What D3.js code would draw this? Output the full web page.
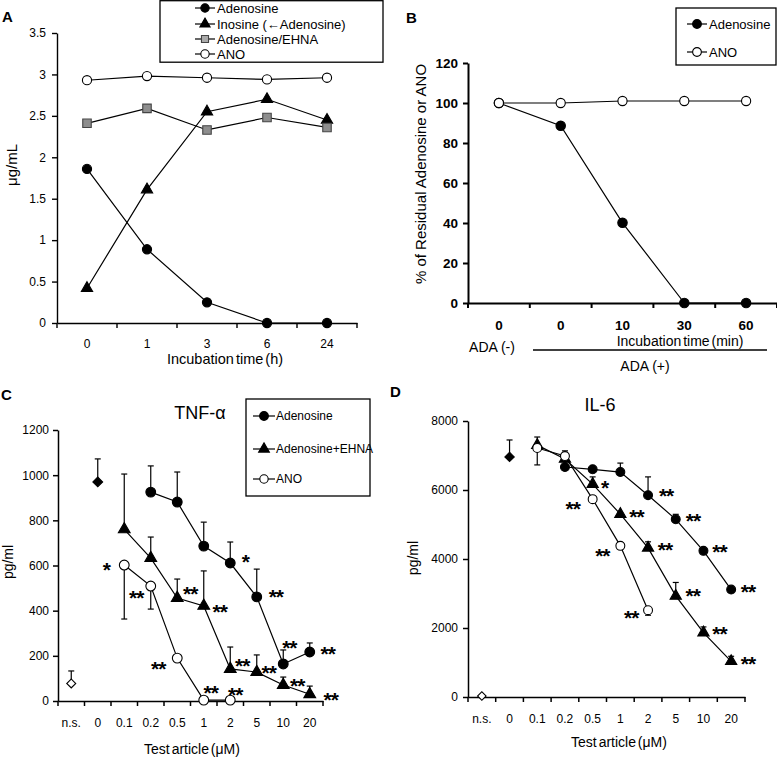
<!DOCTYPE html>
<html><head><meta charset="utf-8">
<script src="https://cdn.jsdelivr.net/npm/d3@7"></script>
<style>body{margin:0;background:#fff}</style>
</head><body>
<script>
// ---------- Panel A data ----------
const timeA = ["0", "1", "3", "6", "24"];
const adenosineA = [1.86, 0.89, 0.25, 0, 0];
const inosineA = [0.42, 1.61, 2.55, 2.70, 2.45];
const ehnaA = [2.41, 2.59, 2.33, 2.48, 2.36];
const anoA = [2.93, 2.98, 2.96, 2.94, 2.96];
const yTicksA = [0, 0.5, 1, 1.5, 2, 2.5, 3, 3.5];
const legendA = ["Adenosine", "Inosine (\u2190Adenosine)", "Adenosine/EHNA", "ANO"];

// ---------- Panel B data ----------
const timeB = ["0", "0", "10", "30", "60"];
const adenosineB = [100, 88.6, 40.1, 0, 0];
const anoB = [100, 100, 101, 101, 101];
const yTicksB = [0, 20, 40, 60, 80, 100, 120];
const legendB = ["Adenosine", "ANO"];

// ---------- Panel C data (TNF-alpha) ----------
const doseCats = ["n.s.", "0", "0.1", "0.2", "0.5", "1", "2", "5", "10", "20"];
const nsC = 78, nsC_sd = 55;
const controlC = 970, controlC_sd = 102;
const adenosineC_doses = ["0.2", "0.5", "1", "2", "5", "10", "20"];
const adenosineC = [925, 881, 686, 611, 461, 164, 217];
const adenosineC_sd = [116, 133, 106, 93, 123, 62, 40];
const ehnaC_doses = ["0.1", "0.2", "0.5", "1", "2", "5", "10", "20"];
const ehnaC = [760, 633, 456, 421, 142, 128, 71, 30];
const ehnaC_sd = [245, 93, 84, 155, 97, 76, 35, 36];
const anoC_doses = ["0.1", "0.2", "0.5", "1", "2"];
const anoC = [602, 509, 190, 4, 4];
const anoC_sd = [-239, -102, 0, 0, 0];
const yTicksC = [0, 200, 400, 600, 800, 1000, 1200];
const legendC = ["Adenosine", "Adenosine+EHNA", "ANO"];
const sigC = [
  ["0.1", 607, -0.68, "*"], ["0.1", 483, 0.45, "**"], ["0.5", 168, -0.72, "**"],
  ["1", 62, 0.26, "**"], ["2", 53, 0.19, "**"],
  ["0.5", 500, 0.49, "**"], ["1", 421, 0.6, "**"], ["2", 182, 0.45, "**"],
  ["5", 151, 0.45, "**"], ["10", 93, 0.53, "**"], ["20", 31, 0.79, "**"],
  ["2", 642, 0.57, "*"], ["5", 487, 0.72, "**"], ["10", 261, 0.23, "**"], ["20", 235, 0.68, "**"]
];

// ---------- Panel D data (IL-6) ----------
const nsD = 30, nsD_sd = 0;
const controlD = 6960, controlD_sd = 490;
const adenosineD_doses = ["0.2", "0.5", "1", "2", "5", "10", "20"];
const adenosineD = [6667, 6600, 6520, 5850, 5150, 4236, 3114];
const adenosineD_sd = [0, 0, 260, 530, 145, 0, 0];
const ehnaD_doses = ["0.1", "0.2", "0.5", "1", "2", "5", "10", "20"];
const ehnaD = [7300, 6900, 6170, 5300, 4323, 2930, 1866, 1035];
const ehnaD_sd = [236, 0, 210, 0, 175, 390, 165, 145];
const anoD_doses = ["0.1", "0.2", "0.5", "1", "2"];
const anoD = [7217, 6985, 5735, 4381, 2515];
const anoD_sd = [-490, 150, 0, 0, -145];
const yTicksD = [0, 2000, 4000, 6000, 8000];
const sigD = [
  ["0.5", 6232, 0.43, "*"], ["0.5", 5623, -0.72, "**"], ["2", 6000, 0.65, "**"],
  ["1", 5391, 0.58, "**"], ["1", 4261, -0.65, "**"], ["5", 5275, 0.62, "**"],
  ["2", 4435, 0.61, "**"], ["10", 4377, 0.58, "**"], ["2", 2464, -0.61, "**"],
  ["5", 3101, 0.61, "**"], ["20", 3217, 0.61, "**"], ["10", 2000, 0.58, "**"],
  ["20", 1130, 0.61, "**"]
];

// ---------- drawing ----------
const FONT = "'Liberation Sans', Arial, Helvetica, sans-serif";
const svg = d3.select("body").append("svg").attr("width", 777).attr("height", 758)
  .attr("font-family", FONT);

function panel(c) {
  const x = d3.scaleBand().domain(c.keys).range([c.x0, c.x1]).paddingInner(0).paddingOuter(0);
  const y = d3.scaleLinear().domain(c.yDomain).range([c.yb, c.yt]);
  const xc = k => x(k) + x.bandwidth() / 2;
  const gy = svg.append("g").attr("transform", `translate(${c.x0},0)`)
    .call(d3.axisLeft(y).tickValues(c.yTicks).tickSize(5).tickSizeOuter(0).tickPadding(c.yPad)
      .tickFormat(d => String(d)));
  const gx = svg.append("g").attr("transform", `translate(0,${c.yb})`)
    .call(d3.axisBottom(x).tickSize(0).tickSizeOuter(0).tickPadding(c.xPad)
      .tickFormat((d, i) => c.labels[i]));
  const bounds = d3.range(c.keys.length + 1).map(i => c.x0 + i * x.step());
  gx.selectAll("line.bnd").data(bounds).join("line").attr("class", "bnd")
    .attr("x1", d => d).attr("x2", d => d).attr("y1", 0).attr("y2", 5)
    .attr("stroke", "#000").attr("stroke-width", c.sw);
  [gx, gy].forEach(g => {
    g.selectAll("text").attr("font-family", FONT).attr("font-size", c.fs)
      .attr("font-weight", c.fw || "normal").attr("fill", "#000");
    g.select(".domain").attr("stroke-width", c.sw);
    g.selectAll(".tick line").attr("stroke-width", c.sw);
  });
  return { x, y, xc };
}

function line(p, cats, vals) {
  svg.append("path").datum(cats.map((d, i) => [p.xc(d), p.y(vals[i])]))
    .attr("d", d3.line()).attr("fill", "none").attr("stroke", "#000").attr("stroke-width", 1.2);
}
function errs(p, cats, vals, sds) {
  cats.forEach((d, i) => {
    if (!sds[i]) return;
    const cx = p.xc(d), y0 = p.y(vals[i]), y1 = p.y(vals[i] + sds[i]);
    svg.append("line").attr("x1", cx).attr("x2", cx).attr("y1", y0).attr("y2", y1)
      .attr("stroke", "#000").attr("stroke-width", 1.2);
    svg.append("line").attr("x1", cx - 3).attr("x2", cx + 3).attr("y1", y1).attr("y2", y1)
      .attr("stroke", "#000").attr("stroke-width", 1.2);
  });
}
function marker(cx, cy, type, size, fill, stroke, rot) {
  svg.append("path").attr("d", d3.symbol().type(type).size(size)())
    .attr("transform", `translate(${cx},${cy})${rot ? " rotate(" + rot + ")" : ""}`)
    .attr("fill", fill).attr("stroke", stroke || "#000").attr("stroke-width", 1.1);
}
function markers(p, cats, vals, type, size, fill, stroke, rot) {
  cats.forEach((d, i) => marker(p.xc(d), p.y(vals[i]), type, size, fill, stroke, rot));
}
function text(x, y, s, fs, opts = {}) {
  const t = svg.append("text").attr("x", x).attr("y", y).text(s)
    .attr("font-size", fs).attr("fill", "#000")
    .attr("text-anchor", opts.anchor || "start").attr("font-weight", opts.weight || "normal");
  if (opts.ws !== undefined) t.attr("word-spacing", opts.ws);
  if (opts.rotate) t.attr("transform", `rotate(-90,${x},${y})`);
  return t;
}
function legend(box, items, lx0, lx1, tx, fs) {
  svg.append("rect").attr("x", box[0]).attr("y", box[1]).attr("width", box[2]).attr("height", box[3])
    .attr("fill", "#fff").attr("stroke", "#000").attr("stroke-width", 1.3);
  items.forEach(it => {
    svg.append("line").attr("x1", lx0).attr("x2", lx1).attr("y1", it.y).attr("y2", it.y)
      .attr("stroke", "#000").attr("stroke-width", 1.2);
    marker((lx0 + lx1) / 2, it.y, it.type, it.size, it.fill, it.stroke, it.rot);
    text(tx, it.y + fs * 0.36, it.label, fs);
  });
}
function sigs(p, list, fs) {
  list.forEach(([cat, v, dx, s]) => {
    text(p.xc(cat) + dx * p.x.step(), p.y(v) + fs * 0.62, s, fs, { anchor: "middle", weight: "bold" })
      .attr("letter-spacing", -1);
  });
}

// ===== Panel A =====
const pA = panel({ keys: timeA, labels: timeA, x0: 57, x1: 357, yb: 323, yt: 33,
  yDomain: [0, 3.5], yTicks: yTicksA, yPad: 6, xPad: 16, fs: 12, sw: 1.4 });
[[adenosineA], [inosineA], [ehnaA], [anoA]].forEach(([v]) => line(pA, timeA, v));
markers(pA, timeA, inosineA, d3.symbolTriangle, 55, "#000");
markers(pA, timeA, adenosineA, d3.symbolCircle, 66, "#000");
markers(pA, timeA, ehnaA, d3.symbolSquare, 72, "#8e8e8e", "#444");
markers(pA, timeA, anoA, d3.symbolCircle, 66, "#fff");
legend([160, 0.7, 223, 61.5], [
  { y: 8, type: d3.symbolCircle, size: 55, fill: "#000", label: legendA[0] },
  { y: 24, type: d3.symbolTriangle, size: 45, fill: "#000", label: legendA[1] },
  { y: 39, type: d3.symbolSquare, size: 50, fill: "#aaa", stroke: "#444", label: legendA[2] },
  { y: 54, type: d3.symbolCircle, size: 55, fill: "#fff", label: legendA[3] }
], 195, 215, 217, 13);
text(2, 22, "A", 15, { weight: "bold" });
text(17, 165, "\u03bcg/mL", 15, { anchor: "middle", rotate: true });
text(225, 364, "Incubation time (h)", 14.5, { anchor: "middle", ws: -2 });

// ===== Panel B =====
const idxB = timeB.map((d, i) => "k" + i);
const pB = panel({ keys: idxB, labels: timeB, x0: 468, x1: 777, yb: 303, yt: 63,
  yDomain: [0, 120], yTicks: yTicksB, yPad: 5, xPad: 17, fs: 13.5, fw: "bold", sw: 2 });
line(pB, idxB, adenosineB);
line(pB, idxB, anoB);
markers(pB, idxB, adenosineB, d3.symbolCircle, 70, "#000");
markers(pB, idxB, anoB, d3.symbolCircle, 66, "#fff");
legend([676, 8, 100, 57], [
  { y: 24, type: d3.symbolCircle, size: 60, fill: "#000", label: legendB[0] },
  { y: 52, type: d3.symbolCircle, size: 60, fill: "#fff", label: legendB[1] }
], 687, 707, 709, 13);
text(406, 23, "B", 15, { weight: "bold" });
text(426, 174, "% of Residual Adenosine or ANO", 15, { anchor: "middle", rotate: true });
text(492, 352, "ADA (-)", 14, { anchor: "middle" });
text(680, 346, "Incubation time (min)", 14, { anchor: "middle", ws: -2 });
svg.append("line").attr("x1", 533).attr("x2", 767).attr("y1", 350).attr("y2", 350)
  .attr("stroke", "#000").attr("stroke-width", 1.6);
text(645, 371, "ADA (+)", 14, { anchor: "middle" });

// ===== Panel C =====
const pC = panel({ keys: doseCats, labels: doseCats, x0: 58, x1: 323, yb: 701, yt: 430,
  yDomain: [0, 1200], yTicks: yTicksC, yPad: 4, xPad: 17, fs: 12, sw: 1.5 });
line(pC, adenosineC_doses, adenosineC);
line(pC, ehnaC_doses, ehnaC);
line(pC, anoC_doses, anoC);
errs(pC, ["n.s."], [nsC], [nsC_sd]);
errs(pC, ["0"], [controlC], [controlC_sd]);
errs(pC, adenosineC_doses, adenosineC, adenosineC_sd);
errs(pC, ehnaC_doses, ehnaC, ehnaC_sd);
errs(pC, anoC_doses, anoC, anoC_sd);
marker(pC.xc("n.s."), pC.y(nsC), d3.symbolSquare, 40, "#fff", "#000", 45);
marker(pC.xc("0"), pC.y(controlC), d3.symbolSquare, 48, "#000", "#000", 45);
markers(pC, ehnaC_doses, ehnaC, d3.symbolTriangle, 60, "#000");
markers(pC, adenosineC_doses, adenosineC, d3.symbolCircle, 75, "#000");
markers(pC, anoC_doses, anoC, d3.symbolCircle, 75, "#fff");
sigs(pC, sigC, 21);
legend([246, 399, 124, 97], [
  { y: 416, type: d3.symbolCircle, size: 60, fill: "#000", label: legendC[0] },
  { y: 449, type: d3.symbolTriangle, size: 50, fill: "#000", label: legendC[1] },
  { y: 479, type: d3.symbolCircle, size: 55, fill: "#fff", label: legendC[2] }
], 253, 275, 276, 12);
text(1, 400, "C", 15, { weight: "bold" });
text(200, 419, "TNF-\u03b1", 18, { anchor: "middle" });
text(13, 562, "pg/ml", 14, { anchor: "middle", rotate: true });
text(192, 754, "Test article (\u03bcM)", 14, { anchor: "middle", ws: -2 });

// ===== Panel D =====
const pD = panel({ keys: doseCats, labels: doseCats, x0: 468, x1: 745, yb: 697, yt: 421,
  yDomain: [0, 8000], yTicks: yTicksD, yPad: 5, xPad: 17, fs: 12, sw: 1.5 });
line(pD, adenosineD_doses, adenosineD);
line(pD, ehnaD_doses, ehnaD);
line(pD, anoD_doses, anoD);
errs(pD, ["0"], [controlD], [controlD_sd]);
errs(pD, adenosineD_doses, adenosineD, adenosineD_sd);
errs(pD, ehnaD_doses, ehnaD, ehnaD_sd);
errs(pD, anoD_doses, anoD, anoD_sd);
marker(pD.xc("n.s."), pD.y(nsD), d3.symbolSquare, 36, "#fff", "#000", 45);
marker(pD.xc("0"), pD.y(controlD), d3.symbolSquare, 44, "#000", "#000", 45);
markers(pD, ehnaD_doses, ehnaD, d3.symbolTriangle, 55, "#000");
markers(pD, adenosineD_doses, adenosineD, d3.symbolCircle, 62, "#000");
markers(pD, anoD_doses, anoD, d3.symbolCircle, 62, "#fff");
sigs(pD, sigD, 21);
text(390, 397, "D", 15, { weight: "bold" });
text(600, 411, "IL-6", 18, { anchor: "middle" });
text(418, 558, "pg/ml", 14, { anchor: "middle", rotate: true });
text(619, 747, "Test article (\u03bcM)", 14, { anchor: "middle", ws: -2 });
</script>
</body></html>
